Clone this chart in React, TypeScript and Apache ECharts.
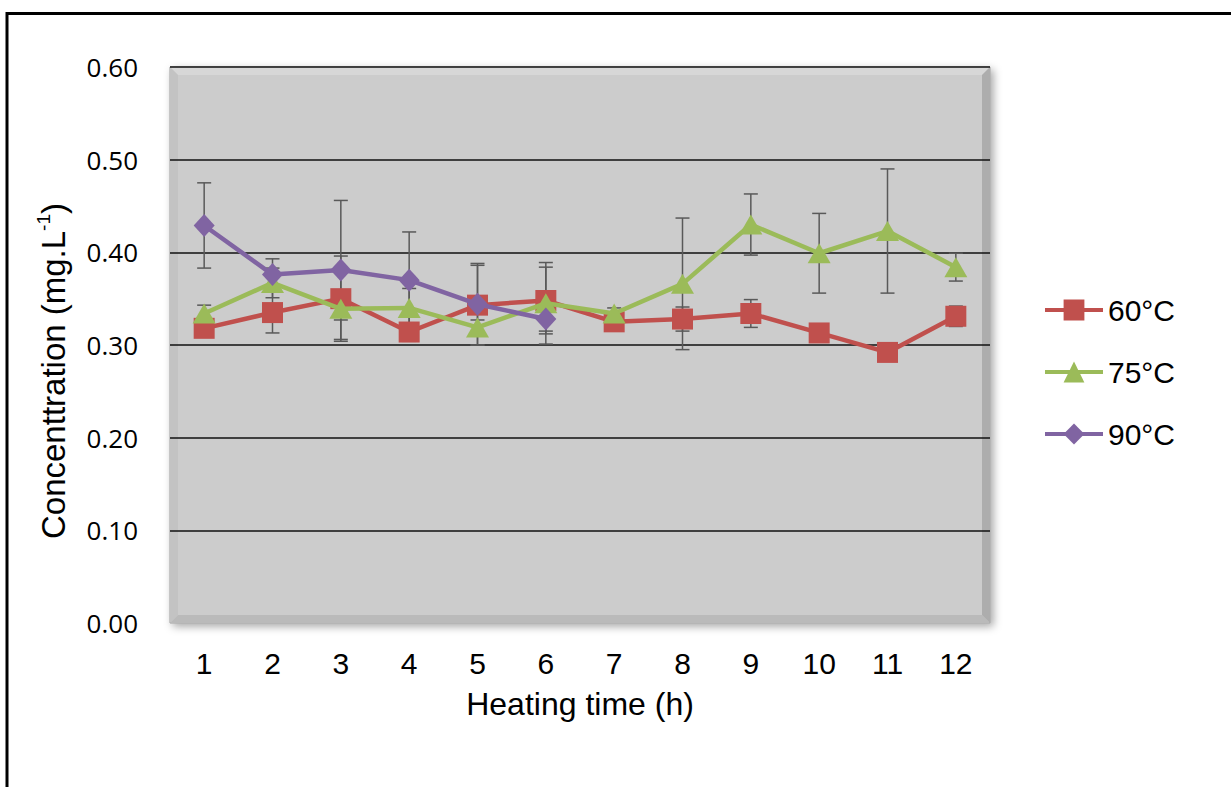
import React, { useEffect, useRef } from "react";
import * as echarts from "echarts";

const hours = ["1", "2", "3", "4", "5", "6", "7", "8", "9", "10", "11", "12"];
const seriesNames = ["60°C", "75°C", "90°C"];
const t60 = [0.318, 0.335, 0.350, 0.314, 0.343, 0.348, 0.325, 0.328, 0.334, 0.313, 0.292, 0.331];
const t75 = [0.334, 0.367, 0.339, 0.340, 0.319, 0.345, 0.334, 0.366, 0.430, 0.399, 0.423, 0.384];
const t90 = [0.429, 0.376, 0.381, 0.370, 0.344, 0.328, null, null, null, null, null, null];
const err60 = [0.008, 0.022, 0.046, 0.010, 0.043, 0.036, 0.006, 0.013, 0.015, 0.008, 0.008, 0.011];
const err75 = [0.009, 0.016, 0.012, 0.021, 0.008, 0.044, 0.006, 0.071, 0.033, 0.043, 0.067, 0.015];
const err90 = [0.046, 0.017, 0.075, 0.052, 0.044, 0.013, null, null, null, null, null, null];
const yTicks = { min: 0, max: 0.6, interval: 0.1 };

const colors = ["#C0504D", "#9BBB59", "#8064A2"];

const G = { left: 170, top: 67, right: 990, bottom: 623 };

function errData(vals: (number | null)[], errs: (number | null)[]) {
  const out: any[] = [];
  vals.forEach((v, i) => {
    const e = errs[i];
    if (v != null && e != null) out.push([i, v - e, v + e]);
  });
  return out;
}

function renderErr(params: any, api: any) {
  const x = api.value(0);
  const lo = api.coord([x, api.value(1)]);
  const hi = api.coord([x, api.value(2)]);
  const hw = 7;
  const style = { stroke: "#595959", lineWidth: 1.5 };
  return {
    type: "group",
    children: [
      { type: "line", shape: { x1: hi[0], y1: hi[1], x2: lo[0], y2: lo[1] }, style },
      { type: "line", shape: { x1: hi[0] - hw, y1: hi[1], x2: hi[0] + hw, y2: hi[1] }, style },
      { type: "line", shape: { x1: lo[0] - hw, y1: lo[1], x2: lo[0] + hw, y2: lo[1] }, style },
    ],
  };
}

export default function App() {
  const ref = useRef<HTMLDivElement>(null);
  useEffect(() => {
    if (!ref.current) return;
    const chart = echarts.init(ref.current, null, { renderer: "svg" });
    const W = G.right - G.left;
    const H = G.bottom - G.top;
    const b = 8;
    const splitColors = ["rgba(0,0,0,0)", "#111", "#111", "#111", "#111", "#111", "#111"];
    const lineData = [t60, t75, t90];
    const errs = [err60, err75, err90];
    const symbols = ["rect", "triangle", "diamond"];
    const symSizes = [21, [23, 20], [21, 23]];
    chart.setOption({
      animation: false,
      backgroundColor: "#ffffff",
      graphic: [
        {
          type: "rect",
          z: -1,
          shape: { x: G.left, y: G.top, width: W, height: H },
          style: {
            fill: "#cccccc",
            stroke: "#9a9a9a",
            lineWidth: 1,
            shadowBlur: 8,
            shadowColor: "rgba(0,0,0,0.35)",
            shadowOffsetX: 3,
            shadowOffsetY: 3,
          },
        },
        {
          type: "polygon",
          z: -1,
          shape: { points: [[G.left, G.top], [G.right, G.top], [G.right - b, G.top + b], [G.left + b, G.top + b]] },
          style: { fill: "#d7d7d7" },
        },
        {
          type: "polygon",
          z: -1,
          shape: { points: [[G.left, G.top], [G.left + b, G.top + b], [G.left + b, G.bottom - b], [G.left, G.bottom]] },
          style: { fill: "#c3c3c3" },
        },
        {
          type: "polygon",
          z: -1,
          shape: { points: [[G.left, G.bottom], [G.left + b, G.bottom - b], [G.right - b, G.bottom - b], [G.right, G.bottom]] },
          style: { fill: "#bababa" },
        },
        {
          type: "polygon",
          z: -1,
          shape: { points: [[G.right, G.top], [G.right, G.bottom], [G.right - b, G.bottom - b], [G.right - b, G.top + b]] },
          style: { fill: "#adadad" },
        },
        {
          type: "polyline",
          z: 10,
          shape: { points: [[7, 787], [7, 13.5], [1231, 13.5]] },
          style: { stroke: "#000", lineWidth: 3, fill: "none" },
        },
      ],
      grid: {
        left: G.left,
        top: G.top,
        right: 1231 - G.right,
        bottom: 787 - G.bottom,
        show: false,
      },
      legend: {
        data: seriesNames,
        orient: "vertical",
        left: 1038,
        top: 290,
        itemWidth: 58,
        itemHeight: 26,
        itemGap: 32,
        lineStyle: { width: 4 },
        textStyle: { fontFamily: "Liberation Sans", fontSize: 30, lineHeight: 30, color: "#000" },
      },
      xAxis: {
        type: "category",
        data: hours,
        boundaryGap: true,
        axisLine: { show: false },
        axisTick: { show: false },
        axisLabel: { fontFamily: "Liberation Sans", fontSize: 30, color: "#000", margin: 25 },
        name: "Heating time (h)",
        nameLocation: "middle",
        nameGap: 65,
        nameTextStyle: { fontFamily: "Liberation Sans", fontSize: 32, color: "#000" },
      },
      yAxis: {
        type: "value",
        min: yTicks.min,
        max: yTicks.max,
        interval: yTicks.interval,
        axisLine: { show: false },
        axisTick: { show: false },
        splitLine: { show: true, lineStyle: { color: splitColors, width: 1.5 } },
        axisLabel: {
          fontFamily: "Open Sans",
          fontSize: 26,
          color: "#000",
          margin: 32,
          formatter: (v: number) => v.toFixed(2),
        },
        name: "Concenttration (mg.L{sup|-1})",
        nameLocation: "middle",
        nameGap: 98,
        nameTextStyle: {
          fontFamily: "Liberation Sans",
          fontSize: 33,
          color: "#000",
          lineHeight: 38,
          padding: [0, 52, 0, 0],
          rich: {
            sup: { fontFamily: "Liberation Sans", fontSize: 19, lineHeight: 19, verticalAlign: "top", color: "#000" },
          },
        },
      },
      series: [
        ...errs.map((e, k) => ({
          type: "custom",
          name: "err" + k,
          z: 1,
          silent: true,
          renderItem: renderErr,
          encode: { x: 0, y: [1, 2] },
          data: errData(lineData[k], e),
        })),
        ...lineData.map((d, k) => ({
          type: "line",
          name: seriesNames[k],
          z: 3 + k,
          data: d,
          symbol: symbols[k],
          symbolSize: symSizes[k],
          showSymbol: true,
          connectNulls: false,
          lineStyle: { color: colors[k], width: 4.5 },
          itemStyle: { color: colors[k] },
        })),
      ],
    });
    return () => chart.dispose();
  }, []);
  return <div ref={ref} style={{ position: "fixed", left: 0, top: 0, width: 1231, height: 787 }} />;
}
